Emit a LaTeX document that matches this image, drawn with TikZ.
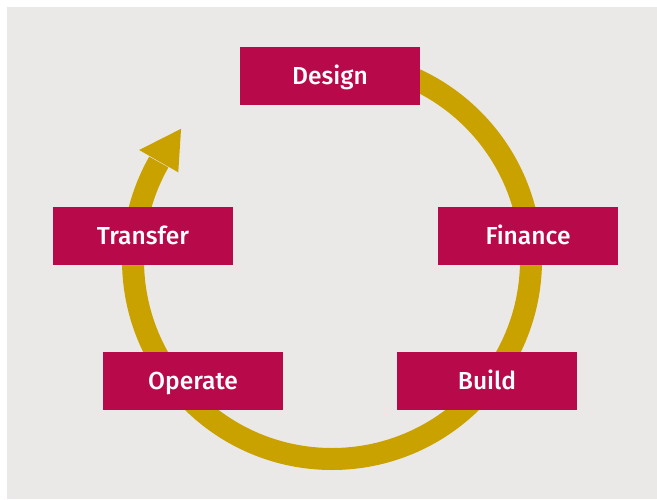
\documentclass[tikz,border=0pt]{standalone}
\usepackage{fontspec}
\setmainfont{Fira Sans}[BoldFont={Fira Sans Medium}]
\usepackage{tikz}
\definecolor{stage}{HTML}{B80A4B}
\definecolor{ring}{HTML}{C9A200}
\definecolor{paper}{HTML}{EBE9E7}
\def\dring{\draw[ring,line width=0.66cm]}
\tikzset{stagebox/.style={fill=stage,text=white,minimum width=5.4cm,minimum height=1.75cm,
  font=\fontsize{21}{24}\selectfont\bfseries,inner sep=0pt,text height=0.5cm,text depth=0pt}}

\begin{document}
\begin{tikzpicture}[x=0.03cm,y=0.03cm]
                \useasboundingbox (0,0) rectangle (657,499);
                \fill[paper] (7,0) rectangle (657,492);
                % the ring, centre of the cycle
                \begin{scope}[shift={(332,239)}]
                \dring (90:199) arc[start angle=90,end angle=-209.5,radius=199];
                \fill[ring] (139:200) -- (150.3:222) -- (150.3:177) -- cycle;
                \end{scope}
                % the stages
                \node[stagebox] (design)   at (330,423) {Design};
                \node[stagebox] (finance)  at (528,263) {Finance};
                \node[stagebox] (build)    at (487,118) {Build};
                \node[stagebox] (operate)  at (193,118) {Operate};
                \node[stagebox] (transfer) at (143,263) {Transfer};
            \end{tikzpicture}
\end{document}
